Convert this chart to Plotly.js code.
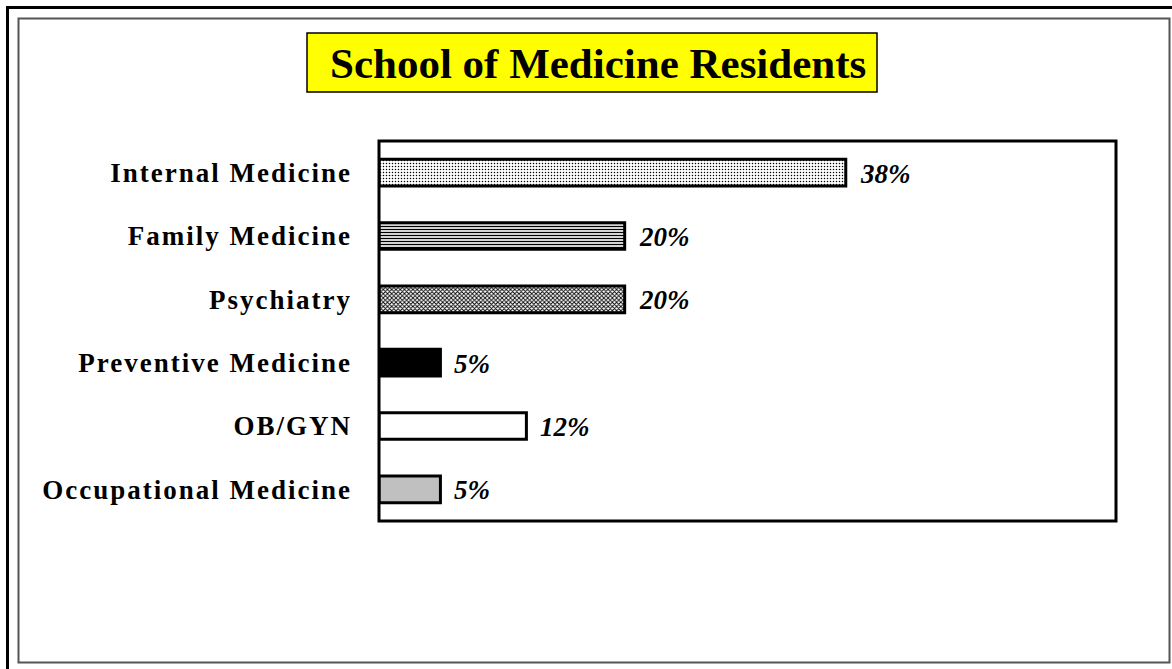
<!DOCTYPE html>
<html>
<head>
<meta charset="utf-8">
<script src="https://cdn.plot.ly/plotly-3.0.1.min.js"></script>
<style>
html,body{margin:0;padding:0;background:#fff;}
#chart{width:1172px;height:669px;}
#chart .ytick text{letter-spacing:2px;}
</style>
</head>
<body>
<div id="chart"></div>
<script>
// ---- data ----
const categories = ["Internal Medicine", "Family Medicine", "Psychiatry", "Preventive Medicine", "OB/GYN", "Occupational Medicine"];
const percents = [38, 20, 20, 5, 12, 5];
const valueLabels = ["38%", "20%", "20%", "5%", "12%", "5%"];
const chartTitle = "School of Medicine Residents";

// ---- styles ----
const SERIF = "Liberation Serif, Times New Roman, serif";
const W = 1172, H = 669;
const plotL = 379, plotR = 1116, plotT = 141, plotB = 521;
const px = X => (X - plotL) / (plotR - plotL);
const py = Y => (plotB - Y) / (plotB - plotT);

const barStyles = [
  {color: "#fff", pattern: {shape: ".", fgcolor: "#000", bgcolor: "#fff", size: 3, solidity: 0.2, fillmode: "replace"}},
  {color: "#fff", pattern: {shape: "-", fgcolor: "#000", bgcolor: "#fff", size: 3, solidity: 0.45, fillmode: "replace"}},
  {color: "#fff", pattern: {shape: "x", fgcolor: "#000", bgcolor: "#fff", size: 3, solidity: 0.5, fillmode: "replace"}},
  {color: "#000"},
  {color: "#fff"},
  {color: "#c0c0c0"}
];

const traces = categories.map((c, i) => ({
  type: "bar",
  orientation: "h",
  x: [percents[i]],
  y: [c],
  width: 0.42,
  marker: Object.assign({line: {color: "#000", width: 3}}, barStyles[i]),
  hoverinfo: "none",
  showlegend: false
}));

const annotations = categories.map((c, i) => ({
  x: percents[i], y: c, xref: "x", yref: "y",
  text: valueLabels[i], showarrow: false,
  xanchor: "left", yanchor: "middle", xshift: 12, yshift: -1,
  font: {family: SERIF, size: 27, color: "#000", weight: "bold", style: "italic"}
}));

annotations.push({
  xref: "paper", yref: "paper",
  x: px(598), y: py(63),
  text: chartTitle, showarrow: false,
  xanchor: "center", yanchor: "middle",
  font: {family: SERIF, size: 43, color: "#000", weight: "bold"}
});

const shapes = [
  {type: "line", xref: "paper", yref: "paper", x0: px(7.5), x1: px(7.5), y0: py(6), y1: py(H), line: {color: "#000", width: 3}},
  {type: "line", xref: "paper", yref: "paper", x0: px(6), x1: px(W), y0: py(7.5), y1: py(7.5), line: {color: "#000", width: 3}},
  {type: "rect", xref: "paper", yref: "paper", x0: px(18.5), x1: px(1169.5), y0: py(18.5), y1: py(662.5), line: {color: "#555", width: 2}},
  {type: "rect", xref: "paper", yref: "paper", x0: px(307), x1: px(877), y0: py(33), y1: py(92), fillcolor: "#ffff00", line: {color: "#000", width: 1.5}, layer: "below"},
  {type: "rect", xref: "paper", yref: "paper", x0: 0, x1: 1, y0: 0, y1: 1, line: {color: "#000", width: 3}}
];

const layout = {
  width: W, height: H,
  margin: {l: plotL, r: W - plotR, t: plotT, b: H - plotB, pad: 0},
  paper_bgcolor: "#fff",
  plot_bgcolor: "#fff",
  barmode: "overlay",
  xaxis: {range: [0, 60], showgrid: false, zeroline: false, showticklabels: false, ticks: "", showline: false, fixedrange: true},
  yaxis: {
    type: "category",
    categoryorder: "array",
    categoryarray: categories,
    autorange: "reversed",
    showgrid: false, zeroline: false, showline: false,
    ticks: "", ticklabelstandoff: 26,
    tickfont: {family: SERIF, size: 27, color: "#000", weight: "bold"},
    fixedrange: true
  },
  shapes: shapes,
  annotations: annotations
};

Plotly.newPlot("chart", traces, layout, {displayModeBar: false, staticPlot: true});
</script>
</body>
</html>
